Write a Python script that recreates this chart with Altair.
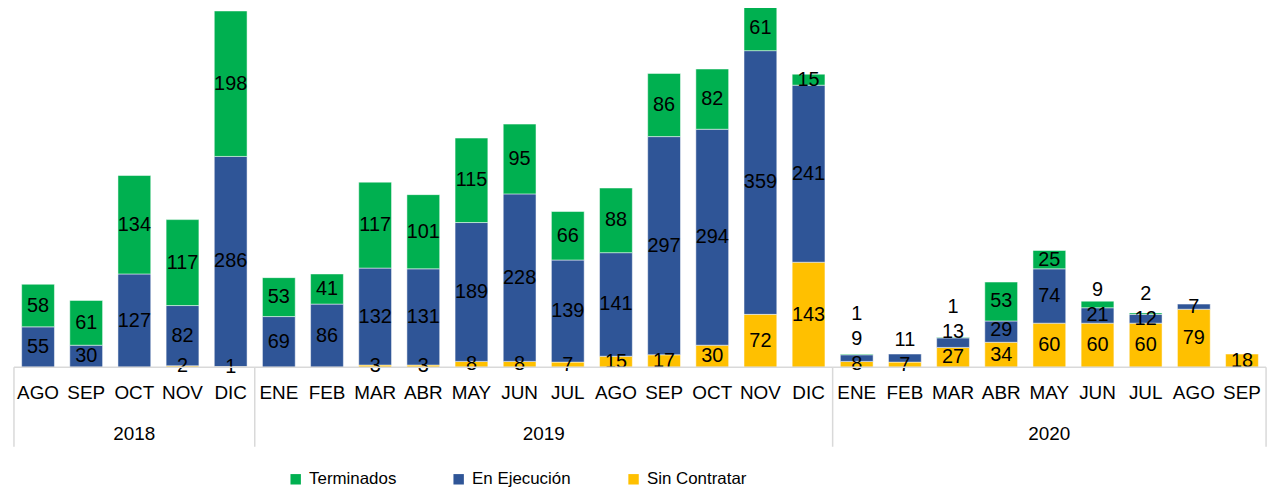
import altair as alt
import pandas as pd

years = ["2018"] * 5 + ["2019"] * 12 + ["2020"] * 9
months = ["AGO", "SEP", "OCT", "NOV", "DIC",
          "ENE", "FEB", "MAR", "ABR", "MAY", "JUN", "JUL", "AGO", "SEP", "OCT", "NOV", "DIC",
          "ENE", "FEB", "MAR", "ABR", "MAY", "JUN", "JUL", "AGO", "SEP"]
sin_contratar = [0, 0, 0, 2, 1,
                 0, 0, 3, 3, 8, 8, 7, 15, 17, 30, 72, 143,
                 8, 7, 27, 34, 60, 60, 60, 79, 18]
en_ejecucion = [55, 30, 127, 82, 286,
                69, 86, 132, 131, 189, 228, 139, 141, 297, 294, 359, 241,
                9, 11, 13, 29, 74, 21, 12, 7, 0]
terminados = [58, 61, 134, 117, 198,
              53, 41, 117, 101, 115, 95, 66, 88, 86, 82, 61, 15,
              1, 0, 1, 53, 25, 9, 2, 0, 0]

series_names = ["Terminados", "En Ejecución", "Sin Contratar"]
series_colors = ["#00B050", "#2F5597", "#FFC000"]
FONT = "Liberation Sans"

# build stacked table (bottom to top: Sin Contratar, En Ejecución, Terminados)
rows = []
MIN_GAP = 34
for i in range(len(months)):
    base = 0
    last_label = None
    for order, (name, vals) in enumerate([("Sin Contratar", sin_contratar),
                                          ("En Ejecución", en_ejecucion),
                                          ("Terminados", terminados)]):
        v = vals[i]
        y0, y1 = base, base + v
        base = y1
        if v == 0:
            continue
        center = (y0 + y1) / 2
        ly = center if last_label is None else max(center, last_label + MIN_GAP)
        last_label = ly
        rows.append(dict(idx=i, mid=i + 0.5, series=name, order=order, value=v,
                         y0=y0, y1=y1, label_y=ly))
df = pd.DataFrame(rows)

mdf = pd.DataFrame(dict(mid=[i + 0.5 for i in range(len(months))], month=months))

# year groups
ydf_rows = []
bounds = [0]
start = 0
for i in range(1, len(years) + 1):
    if i == len(years) or years[i] != years[start]:
        ydf_rows.append(dict(year=years[start], center=(start + i) / 2))
        bounds.append(i)
        start = i
ydf = pd.DataFrame(ydf_rows)
bdf = pd.DataFrame(dict(b=bounds))

N = len(months)
xscale = alt.Scale(domain=[0, N], nice=False, zero=False)
yscale = alt.Scale(domain=[0, 487], nice=False)

H = 360

bars = alt.Chart(df).mark_bar(size=33, stroke="white", strokeWidth=0.5).encode(
    x=alt.X("mid:Q", scale=xscale, axis=None),
    y=alt.Y("y0:Q", scale=yscale, axis=None),
    y2="y1:Q",
    color=alt.Color("series:N",
                    scale=alt.Scale(domain=series_names, range=series_colors),
                    legend=alt.Legend(title=None, orient="none", direction="horizontal",
                                      legendX=280, legendY=464,
                                      symbolType="square", symbolSize=110,
                                      symbolStrokeWidth=0,
                                      labelFont=FONT, labelFontSize=17,
                                      labelColor="#000000", columnPadding=54,
                                      labelOffset=5)),
)

labels = alt.Chart(df).mark_text(font=FONT, fontSize=20, color="#000000",
                                 baseline="middle", align="center").encode(
    x=alt.X("mid:Q", scale=xscale),
    y=alt.Y("label_y:Q", scale=yscale),
    text="value:Q",
)

baseline = alt.Chart(pd.DataFrame(dict(a=[0], b=[N]))).mark_rule(
    color="#D9D9D9", strokeWidth=1.5).encode(
    x=alt.X("a:Q", scale=xscale), x2="b:Q", y=alt.value(H))

seps = alt.Chart(bdf).mark_rule(color="#D9D9D9", strokeWidth=1.5).encode(
    x=alt.X("b:Q", scale=xscale), y=alt.value(H), y2=alt.value(440))

month_text = alt.Chart(mdf).mark_text(font=FONT, fontSize=19, color="#000000",
                                      baseline="middle").encode(
    x=alt.X("mid:Q", scale=xscale), y=alt.value(386), text="month:N")

year_text = alt.Chart(ydf).mark_text(font=FONT, fontSize=19, color="#000000",
                                     baseline="middle").encode(
    x=alt.X("center:Q", scale=xscale), y=alt.value(427), text="year:N")

chart = alt.layer(bars, labels, baseline, seps, month_text, year_text).properties(
    width=1270, height=H,
    autosize=alt.AutoSizeParams(type="none"),
    padding={"left": 1, "top": 0, "right": 5, "bottom": 122},
).configure_view(stroke=None)

chart.save("out.html", embed_options={"renderer": "svg", "actions": False})
